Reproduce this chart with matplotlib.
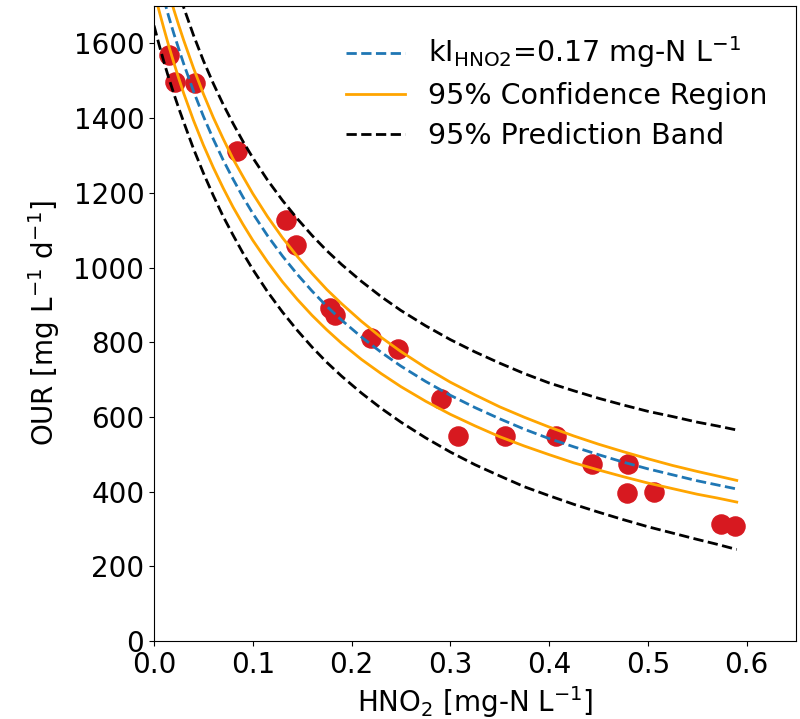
import numpy as np
import matplotlib
matplotlib.use("Agg")
import matplotlib.pyplot as plt

# measured points
hno2 = [0.015, 0.021, 0.042, 0.084, 0.134, 0.144, 0.178, 0.183, 0.220, 0.247,
        0.291, 0.308, 0.355, 0.407, 0.443, 0.480, 0.479, 0.506, 0.574, 0.588]
our = [1568, 1496, 1493, 1312, 1126, 1061, 892, 872, 810, 781,
       647, 549, 549, 548, 473, 473, 395, 398, 313, 308]

# curves
x_curve = [0, 0.005, 0.01, 0.015, 0.02, 0.025, 0.03, 0.04, 0.05, 0.06, 0.07,
           0.08, 0.09, 0.1, 0.115, 0.13, 0.145, 0.16, 0.175, 0.19, 0.21, 0.23,
           0.25, 0.275, 0.3, 0.325, 0.35, 0.375, 0.4, 0.425, 0.45, 0.475, 0.5,
           0.525, 0.55, 0.57, 0.59]
fit = [1819, 1767, 1718, 1671, 1627, 1586, 1546, 1472, 1405, 1344, 1288,
       1237, 1189, 1145, 1085, 1031, 982, 937, 896, 859, 814, 773,
       736, 695, 658, 625, 595, 567, 542, 520, 499, 479, 461,
       445, 429, 418, 407]
ci_up = [1885, 1832, 1783, 1736, 1691, 1649, 1609, 1534, 1465, 1402, 1345,
         1291, 1244, 1198, 1136, 1080, 1030, 984, 941, 903, 856, 813,
         775, 732, 693, 659, 627, 599, 573, 549, 527, 507, 488,
         470, 454, 442, 430]
ci_lo = [1742, 1689, 1640, 1593, 1549, 1507, 1467, 1394, 1328, 1268, 1213,
         1162, 1116, 1073, 1015, 962, 915, 872, 833, 797, 754, 716,
         681, 642, 607, 576, 547, 522, 499, 477, 458, 440, 423,
         408, 393, 383, 372]
pi_up = [1971, 1919, 1869, 1822, 1778, 1737, 1697, 1622, 1554, 1493, 1437,
         1386, 1338, 1294, 1234, 1180, 1131, 1086, 1045, 1008, 963, 922,
         885, 844, 807, 774, 744, 716, 691, 670, 650, 632, 615,
         601, 586, 576, 565]
pi_lo = [1648, 1598, 1551, 1507, 1466, 1427, 1390, 1318, 1253, 1193, 1137,
         1087, 1039, 995, 935, 881, 832, 787, 746, 709, 664, 623,
         586, 544, 506, 472, 442, 413, 389, 366, 345, 325, 306,
         289, 272, 259, 245]

fig = plt.figure(figsize=(8, 7.19), dpi=100)
ax = fig.add_axes([0.1925, 0.1085, 0.8025, 0.883])

ax.scatter(hno2, our, s=190, color='#d71920', zorder=1)
ax.plot(x_curve, fit, '--', color='#1f77b4', lw=2,
        label=r'kI$_{\mathrm{HNO2}}$=0.17 mg-N L$^{-1}$')
ax.plot(x_curve, ci_up, '-', color='orange', lw=2, label='95% Confidence Region')
ax.plot(x_curve, ci_lo, '-', color='orange', lw=2)
ax.plot(x_curve, pi_up, '--', color='black', lw=2, label='95% Prediction Band')
ax.plot(x_curve, pi_lo, '--', color='black', lw=2)

ax.set_xlim(0, 0.65)
ax.set_ylim(0, 1700)
ax.set_xticks(np.arange(0, 0.61, 0.1))
ax.set_yticks(range(0, 1601, 200))
ax.tick_params(labelsize=20)
ax.set_xlabel(r'HNO$_2$ [mg-N L$^{-1}$]', fontsize=20)
ax.set_ylabel(r'OUR [mg L$^{-1}$ d$^{-1}$]', fontsize=20, labelpad=8)
ax.legend(loc='upper right', fontsize=20.5, frameon=False, handlelength=2.1,
          handletextpad=0.8, labelspacing=0.42, borderaxespad=0.6)

fig.savefig('out.png', dpi=100)
